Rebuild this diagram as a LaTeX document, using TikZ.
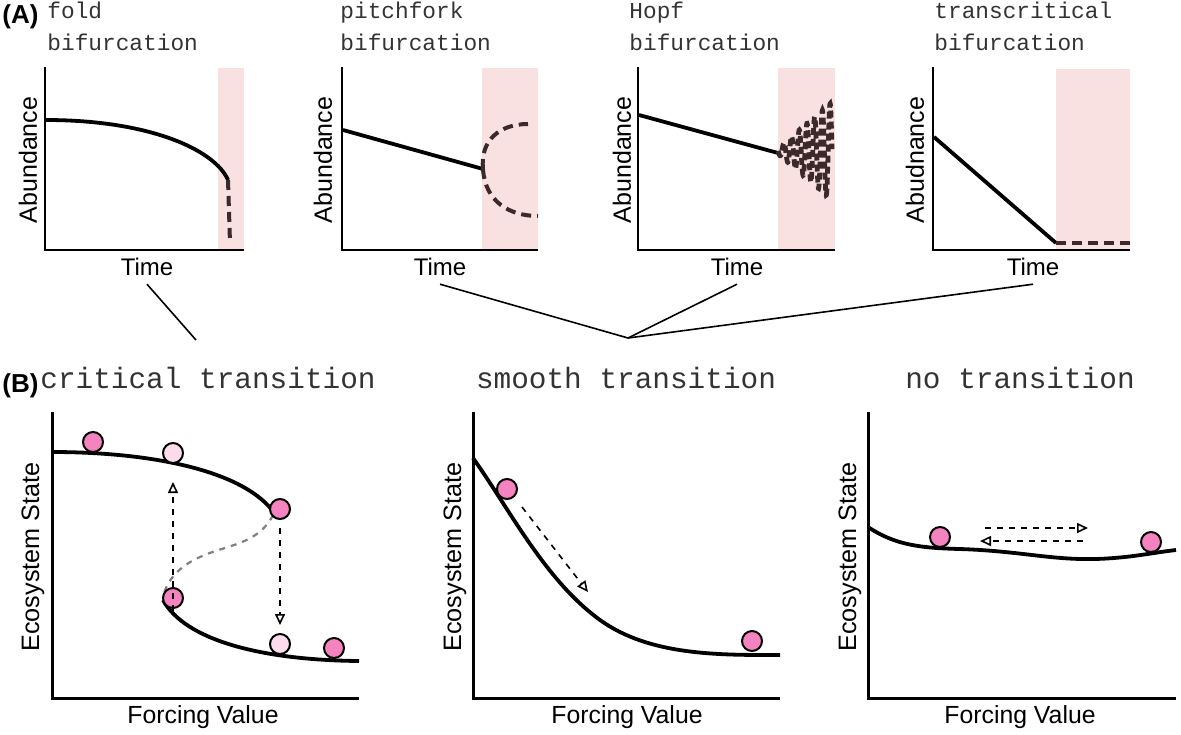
\documentclass[tikz,border=0pt]{standalone}
\usepackage{fontspec}
\setmainfont{Liberation Sans}
\newfontfamily\monofont{Liberation Mono}
\usetikzlibrary{arrows.meta}
\definecolor{shadepink}{HTML}{F9E1E1}
\definecolor{ballpink}{HTML}{F483C0}
\definecolor{ballpale}{HTML}{FCDCEB}
\definecolor{bifbrown}{HTML}{3A2A2C}
\definecolor{titlegray}{HTML}{333333}

\begin{document}
\begin{tikzpicture}[
  x=0.5pt, y=-0.5pt,
  every node/.style={inner sep=0pt},
  axis/.style={line width=1.3pt},
  curve/.style={line width=1.9pt},
  bifdash/.style={draw=bifbrown, line width=2pt, dash pattern=on 5pt off 3pt},
  shade/.style={fill=shadepink, draw=none},
  ylab/.style={rotate=90, font=\fontsize{12.5}{14}\selectfont},
  xlab/.style={font=\fontsize{12}{14}\selectfont},
  bigylab/.style={rotate=90, font=\fontsize{12.6}{14}\selectfont},
  bigxlab/.style={font=\fontsize{12.4}{14}\selectfont},
  biftitle/.style={anchor=base west, align=left, text=titlegray,
    font=\monofont\fontsize{11.4}{16}\selectfont},
  trtitle/.style={anchor=base, text=titlegray,
    font=\monofont\fontsize{14.7}{16}\selectfont},
  panel/.style={anchor=base west, font=\bfseries\fontsize{13}{15}\selectfont},
  ball/.style={circle, draw, line width=1pt, fill=ballpink, minimum size=10pt},
  paleball/.style={ball, fill=ballpale},
  move/.style={dashed, line width=0.8pt, -{Triangle[open, length=5.5pt, width=5pt]}},
  link/.style={line width=0.8pt}
]
\useasboundingbox (0,0) rectangle (1181,734);

% (A) bifurcation panels
\node[panel] (labA) at (2,23) {(A)};

% fold
\fill[shade] (218,68) rectangle (244,250);
\draw[axis] (45,67) -- (45,250) -- (244,250);
\draw[curve] (46,120) .. controls (150,120) and (215,150) .. (228,180);
\draw[bifdash] (228,180) -- (230,243);
\node[biftitle] (tFold) at (47,50) {fold\\bifurcation};
\node[ylab] (yFold) at (28,160) {Abundance};
\node[xlab] (xFold) at (147,267) {Time};

% pitchfork
\fill[shade] (482,68) rectangle (538,250);
\draw[axis] (342,67) -- (342,250) -- (538,250);
\draw[curve] (343,130) -- (483,169);
\draw[bifdash] (483,169) .. controls (480,140) and (500,124) .. (528,124);
\draw[bifdash] (483,169) .. controls (485,202) and (510,216) .. (538,216);
\node[biftitle] (tPitch) at (340,50) {pitchfork\\bifurcation};
\node[ylab] (yPitch) at (323,160) {Abundance};
\node[xlab] (xPitch) at (440,267) {Time};

% Hopf
\fill[shade] (778,68) rectangle (835,250);
\draw[axis] (638,67) -- (638,250) -- (835,250);
\draw[curve] (639,115) -- (778,153);
\draw[bifdash, line width=2.4pt, dash pattern=on 3.5pt off 2pt]
  plot[domain=0:1, samples=300, smooth] ({778+54*\x}, {151+(3+46*\x)*sin(2520*\x)});
\node[biftitle] (tHopf) at (629,50) {Hopf\\bifurcation};
\node[ylab] (yHopf) at (622,160) {Abundance};
\node[xlab] (xHopf) at (737,267) {Time};

% transcritical
\fill[shade] (1056,69) rectangle (1130,250);
\draw[axis] (933,67) -- (933,250) -- (1130,250);
\draw[curve] (934,137) -- (1056,243);
\draw[bifdash] (1056,243) -- (1130,243);
\node[biftitle] (tTrans) at (934,50) {transcritical\\bifurcation};
\node[ylab] (yTrans) at (915,160) {Abudnance};
\node[xlab] (xTrans) at (1033,267) {Time};

% links between rows
\coordinate (critEnd) at (196,340);
\coordinate (hub) at (628,338);
\draw[link] ([yshift=-4pt]xFold.south) -- (critEnd);
\draw[link] ([yshift=-4pt]xPitch.south) -- (hub);
\draw[link] ([yshift=-4pt]xHopf.south) -- (hub);
\draw[link] ([yshift=-4pt]xTrans.south) -- (hub);

% (B) transition panels
\node[panel] (labB) at (2,392) {(B)};

% critical transition
\draw[axis, line width=1.5pt] (52,412) -- (52,698) -- (359,698);
\draw[curve] (52,452) .. controls (150,452) and (240,470) .. (272,510);
\draw[curve] (163,600) .. controls (185,640) and (260,660) .. (359,661);
\draw[gray, dashed, line width=1.1pt] (273,515) .. controls (258,545) and (225,545) .. (200,557)
  .. controls (175,568) and (165,585) .. (163,598);
\node[ball] (c1) at (93,442) {};
\node[paleball] (c2) at (173,453) {};
\node[ball] (c3) at (280,509) {};
\node[ball] (c4) at (173,598) {};
\node[paleball] (c5) at (280,644) {};
\node[ball] (c6) at (334,648) {};
\draw[move] ([yshift=-12pt]c4.north) -- ([yshift=-9pt]c2.south);
\draw[move] ([yshift=-4pt]c3.south) -- ([yshift=4pt]c5.north);
\node[trtitle, anchor=base west] (tCrit) at (40,388) {critical transition};
\node[bigylab] (yCrit) at (33,557) {Ecosystem State};
\node[bigxlab] (xCrit) at (203,717) {Forcing Value};

% smooth transition
\draw[axis, line width=1.5pt] (473,412) -- (473,698) -- (780,698);
\draw[curve] (473,458) .. controls (510,510) and (545,580) .. (600,620)
  .. controls (650,656) and (720,655) .. (780,655);
\node[ball] (s1) at (507,489) {};
\node[ball] (s2) at (752,641) {};
\coordinate (sFrom) at (522,507);
\coordinate (sTo) at (588,592);
\draw[move] (sFrom) -- (sTo);
\node[trtitle] (tSmooth) at (626,388) {smooth transition};
\node[bigylab] (ySmooth) at (455,557) {Ecosystem State};
\node[bigxlab] (xSmooth) at (627,717) {Forcing Value};

% no transition
\draw[axis, line width=1.5pt] (868,412) -- (868,698) -- (1176,698);
\draw[curve] (868,527) .. controls (895,545) and (920,548) .. (960,549)
  .. controls (1020,551) and (1050,560) .. (1095,559)
  .. controls (1130,558) and (1150,553) .. (1176,550);
\node[ball] (n1) at (940,537) {};
\node[ball] (n2) at (1151,542) {};
\coordinate (rFrom) at (985,528);
\coordinate (rTo) at (1088,528);
\coordinate (lFrom) at (1083,541);
\coordinate (lTo) at (980,541);
\draw[move] (rFrom) -- (rTo);
\draw[move] (lFrom) -- (lTo);
\node[trtitle] (tNone) at (1020,388) {no transition};
\node[bigylab] (yNone) at (850,557) {Ecosystem State};
\node[bigxlab] (xNone) at (1020,717) {Forcing Value};

\end{tikzpicture}
\end{document}
